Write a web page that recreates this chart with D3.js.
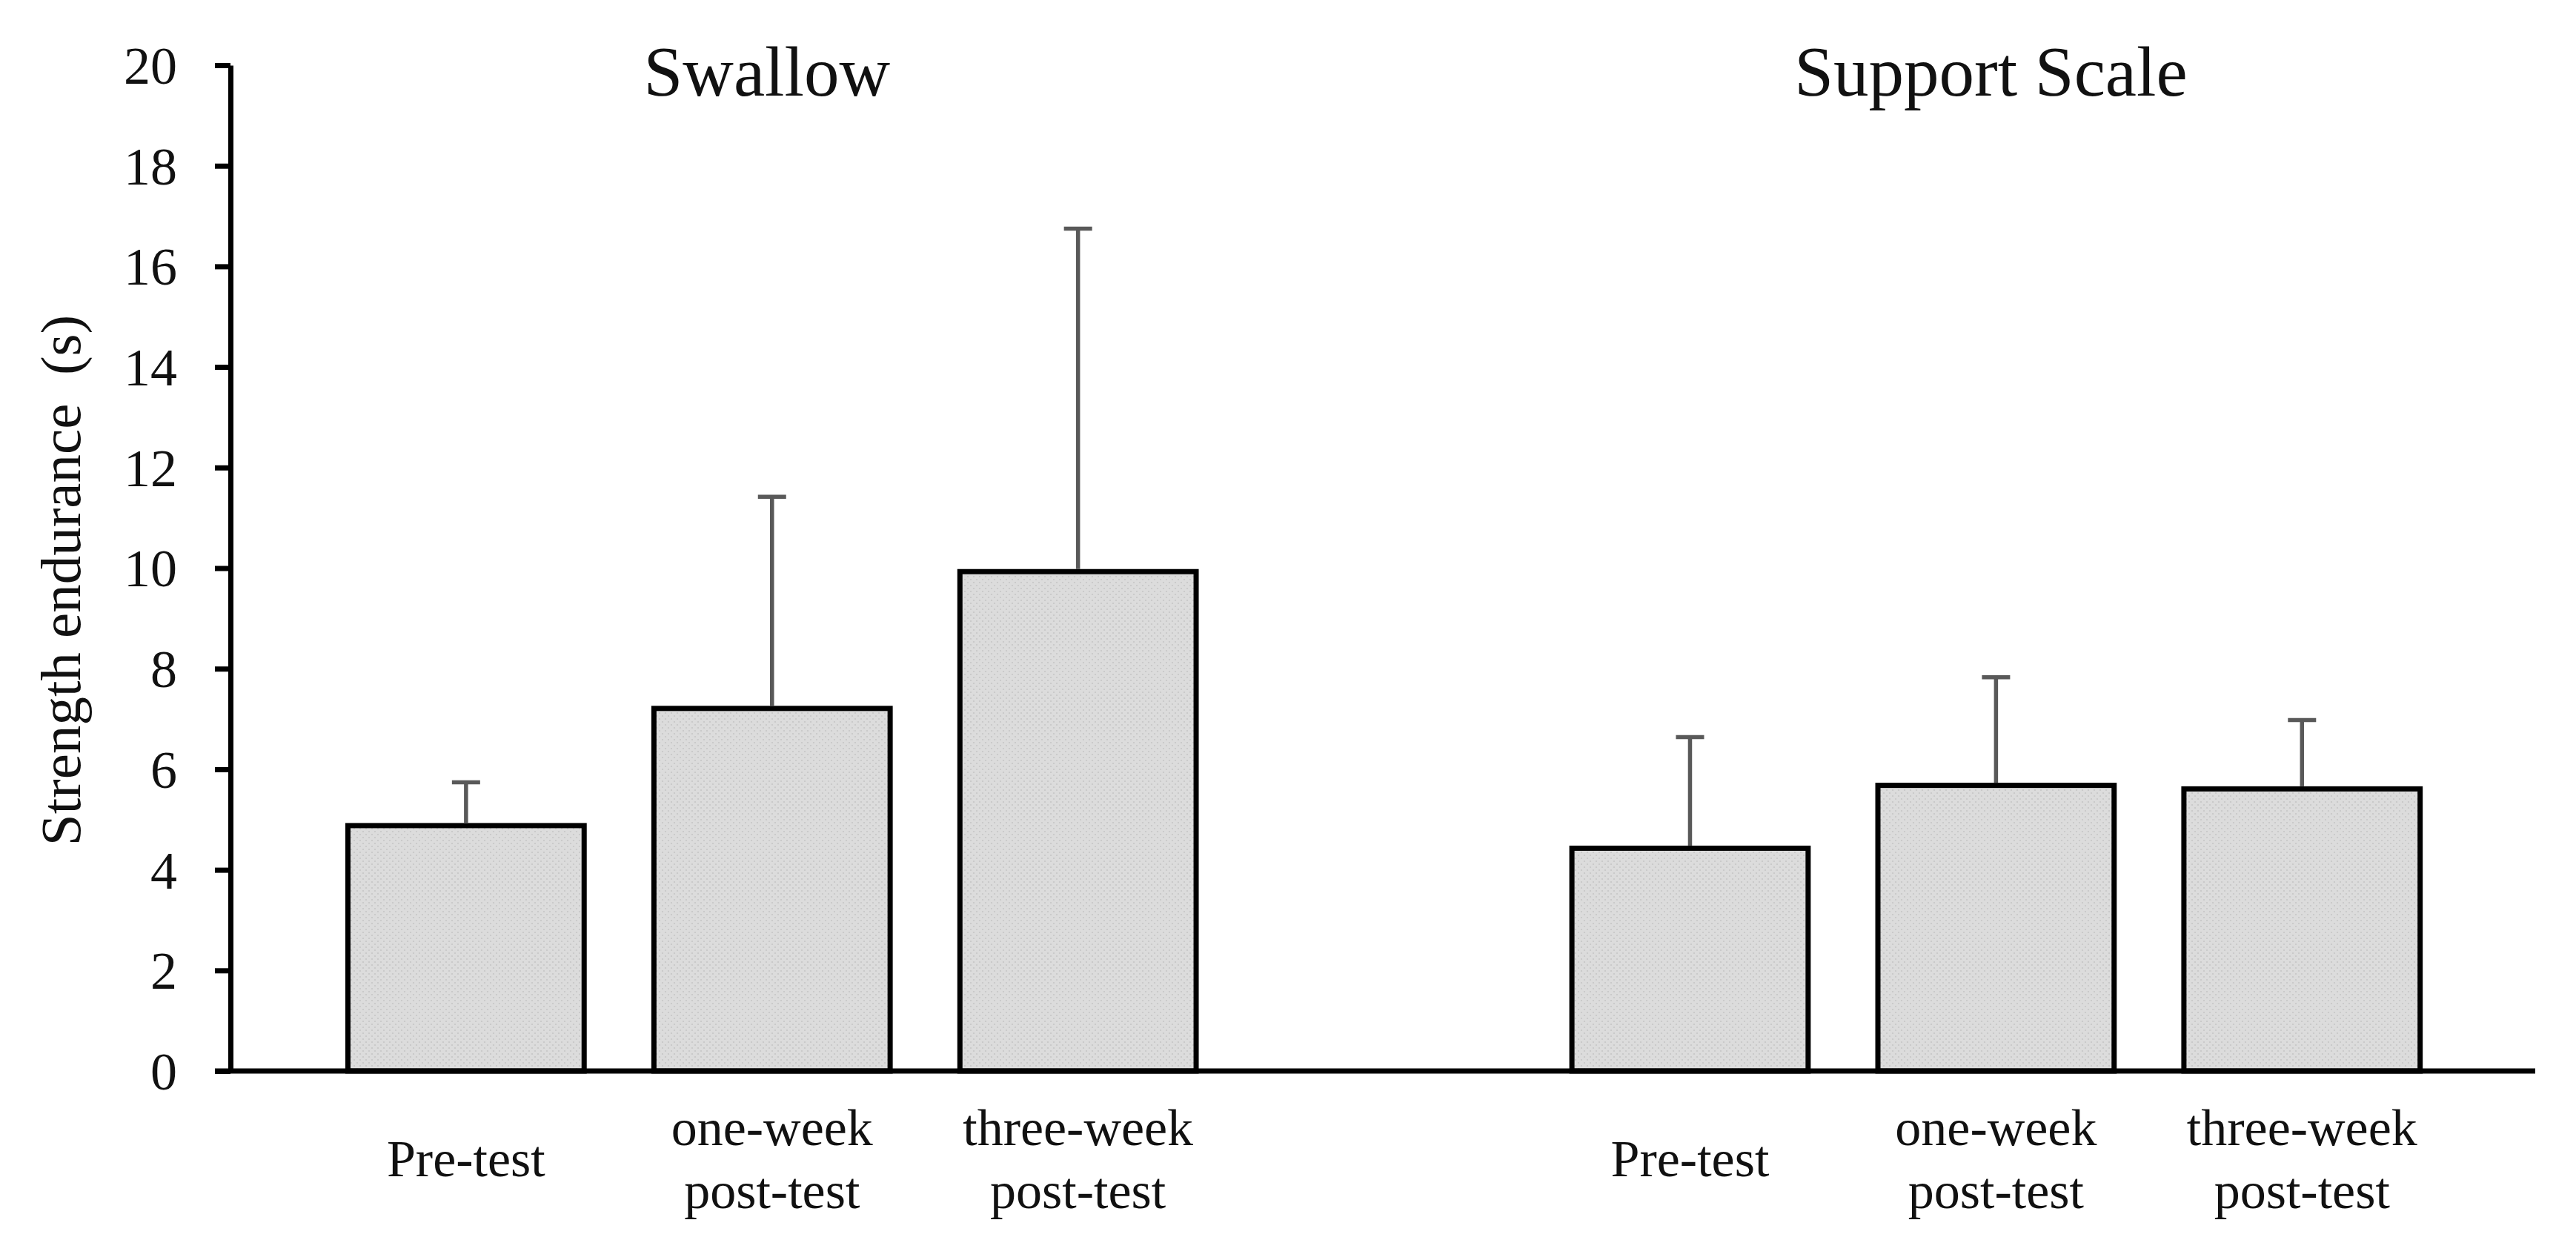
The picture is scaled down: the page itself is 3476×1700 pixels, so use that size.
<!DOCTYPE html>
<html>
<head>
<meta charset="utf-8">
<script src="https://cdn.jsdelivr.net/npm/d3@7"></script>
<style>
  html, body { margin: 0; padding: 0; background: #ffffff; }
  svg { display: block; }
</style>
</head>
<body>
<svg id="chart" width="3476" height="1700"></svg>
<script>
// ---- data ----
const groups = ["Swallow", "Support Scale"];
const conditions = ["Pre-test", "one-week post-test", "three-week post-test"];
const conditionLines = [["Pre-test"], ["one-week", "post-test"], ["three-week", "post-test"]];
const swallowMeans = [4.88, 7.21, 9.93];
const swallowSD = [0.86, 4.21, 6.82];
const supportMeans = [4.43, 5.68, 5.61];
const supportSD = [2.21, 2.15, 1.37];
const yTicks = [0, 2, 4, 6, 8, 10, 12, 14, 16, 18, 20];
const yLabel = "Strength endurance\u00A0 (s)";

// ---- build rows ----
const seriesMeans = [swallowMeans, supportMeans];
const seriesSD = [swallowSD, supportSD];
const rows = [];
groups.forEach((g, gi) => {
  conditions.forEach((c, ci) => {
    rows.push({ key: g + "|" + ci, group: g, gi, ci, lines: conditionLines[ci],
                mean: seriesMeans[gi][ci], sd: seriesSD[gi][ci] });
  });
});
const slotKeys = [groups[0] + "|0", groups[0] + "|1", groups[0] + "|2", "gap",
                  groups[1] + "|0", groups[1] + "|1", groups[1] + "|2"];

const FONT = "'Palatino Linotype', 'Book Antiqua', Palatino, 'Liberation Serif', 'Times New Roman', serif";

const svg = d3.select("#chart");
const axisX0 = 311, axisX1 = 3421;

const x = d3.scaleBand()
  .domain(slotKeys)
  .range([axisX0, axisX1])
  .paddingInner(0.228)
  .paddingOuter(0.38)
  .align(0.505);

const y = d3.scaleLinear().domain([0, 20]).range([1445, 88]);

// pattern fill for bars (light dotted grey)
const defs = svg.append("defs");
const pat = defs.append("pattern")
  .attr("id", "dots")
  .attr("patternUnits", "userSpaceOnUse")
  .attr("width", 8).attr("height", 8);
pat.append("rect").attr("width", 8).attr("height", 8).attr("fill", "#dcdcdc");
pat.append("circle").attr("cx", 2).attr("cy", 2).attr("r", 1.1).attr("fill", "#c6c6c6");
pat.append("circle").attr("cx", 6).attr("cy", 6).attr("r", 1.1).attr("fill", "#c6c6c6");

// bars
svg.append("g").selectAll("rect")
  .data(rows)
  .join("rect")
  .attr("x", d => x(d.key))
  .attr("width", x.bandwidth())
  .attr("y", d => y(d.mean))
  .attr("height", d => y(0) - y(d.mean))
  .attr("fill", "url(#dots)")
  .attr("stroke", "#000")
  .attr("stroke-width", 7);

// error bars (upper only)
const capHalf = 19;
const eb = svg.append("g").attr("stroke", "#595959").attr("stroke-width", 5.5);
eb.selectAll("line.v")
  .data(rows).join("line").attr("class", "v")
  .attr("x1", d => x(d.key) + x.bandwidth() / 2)
  .attr("x2", d => x(d.key) + x.bandwidth() / 2)
  .attr("y1", d => y(d.mean) - 3.5)
  .attr("y2", d => y(d.mean + d.sd));
eb.selectAll("line.c")
  .data(rows).join("line").attr("class", "c")
  .attr("x1", d => x(d.key) + x.bandwidth() / 2 - capHalf)
  .attr("x2", d => x(d.key) + x.bandwidth() / 2 + capHalf)
  .attr("y1", d => y(d.mean + d.sd))
  .attr("y2", d => y(d.mean + d.sd));

// y axis
const yAxis = d3.axisLeft(y).tickValues(yTicks).tickSize(21).tickSizeOuter(0).tickPadding(51)
  .tickFormat(d3.format("d"));
const gy = svg.append("g").attr("transform", `translate(${axisX0},0)`).call(yAxis);
gy.select(".domain").attr("stroke", "#000").attr("stroke-width", 7);
gy.selectAll(".tick line").attr("stroke", "#000").attr("stroke-width", 7);
gy.selectAll(".tick text")
  .attr("font-family", FONT).attr("font-size", 72).attr("fill", "#111")
  .attr("dy", "0.34em");

// x axis baseline
svg.append("line")
  .attr("x1", axisX0 - 21).attr("x2", axisX1)
  .attr("y1", y(0)).attr("y2", y(0))
  .attr("stroke", "#000").attr("stroke-width", 7);

// category labels
const lab = svg.append("g").attr("font-family", FONT).attr("font-size", 70)
  .attr("fill", "#111").attr("text-anchor", "middle");
rows.forEach(d => {
  const cx = x(d.key) + x.bandwidth() / 2;
  if (d.lines.length === 1) {
    lab.append("text").attr("x", cx).attr("y", 1587).text(d.lines[0]);
  } else {
    lab.append("text").attr("x", cx).attr("y", 1545).text(d.lines[0]);
    lab.append("text").attr("x", cx).attr("y", 1630).text(d.lines[1]);
  }
});

// group titles (centred over middle bar of each group)
svg.append("g").attr("font-family", FONT).attr("font-size", 95).attr("fill", "#111")
  .attr("text-anchor", "middle")
  .selectAll("text").data(groups).join("text")
  .attr("x", g => x(g + "|1") + x.bandwidth() / 2 - 7)
  .attr("y", 129)
  .text(g => g);

// y axis label
svg.append("text")
  .attr("transform", `translate(108,783) rotate(-90)`)
  .attr("text-anchor", "middle")
  .attr("font-family", FONT).attr("font-size", 77).attr("fill", "#111")
  .text(yLabel);
</script>
</body>
</html>
